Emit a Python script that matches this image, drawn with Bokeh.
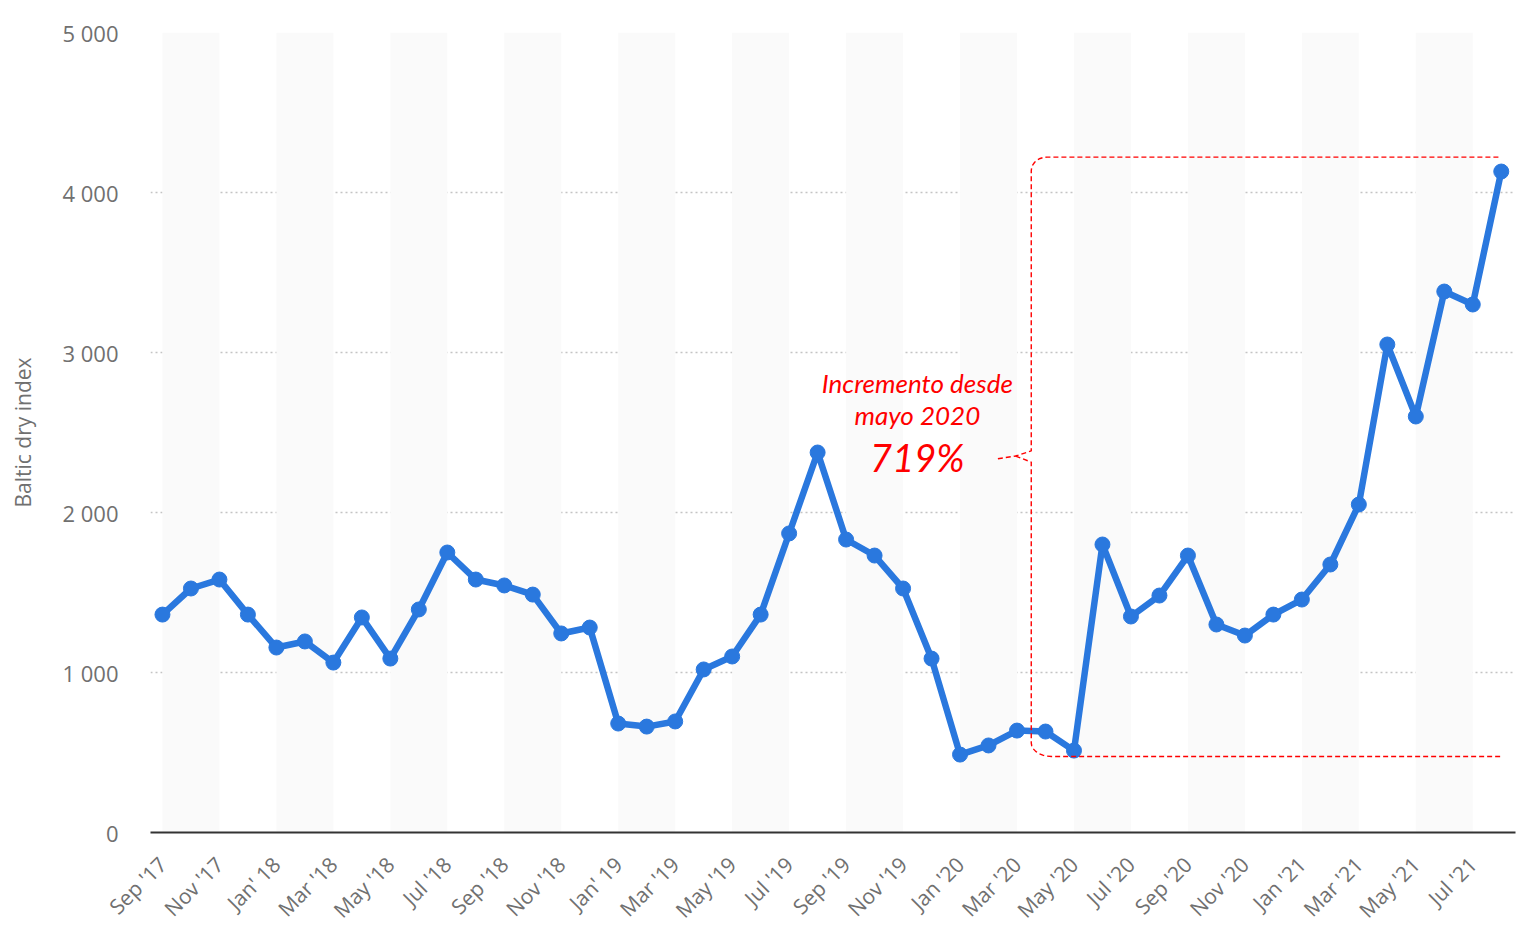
import numpy as np
from bokeh.plotting import figure
from bokeh.models import Range1d, FixedTicker, ColumnDataSource
from bokeh.core.properties import value
from bokeh.embed import file_html
from bokeh.resources import INLINE

# ---------------- data ----------------
months = ["Sep '17", "Oct '17", "Nov '17", "Dec '17",
          "Jan '18", "Feb '18", "Mar '18", "Apr '18", "May '18", "Jun '18",
          "Jul '18", "Aug '18", "Sep '18", "Oct '18", "Nov '18", "Dec '18",
          "Jan '19", "Feb '19", "Mar '19", "Apr '19", "May '19", "Jun '19",
          "Jul '19", "Aug '19", "Sep '19", "Oct '19", "Nov '19", "Dec '19",
          "Jan '20", "Feb '20", "Mar '20", "Apr '20", "May '20", "Jun '20",
          "Jul '20", "Aug '20", "Sep '20", "Oct '20", "Nov '20", "Dec '20",
          "Jan '21", "Feb '21", "Mar '21", "Apr '21", "May '21", "Jun '21",
          "Jul '21", "Aug '21"]
bdi = [1362, 1525, 1581, 1362,
       1156, 1194, 1062, 1344, 1087, 1394,
       1750, 1581, 1544, 1487, 1244, 1281,
       681, 662, 694, 1019, 1100, 1362,
       1869, 2375, 1831, 1731, 1525, 1087,
       487, 544, 637, 631, 512, 1800,
       1350, 1481, 1731, 1300, 1231, 1362,
       1456, 1675, 2050, 3050, 2600, 3381,
       3300, 4131]
tick_labels = ["Sep '17", "Nov '17", "Jan' 18", "Mar '18", "May '18", "Jul '18",
               "Sep '18", "Nov '18", "Jan' 19", "Mar '19", "May '19", "Jul '19",
               "Sep '19", "Nov '19", "Jan '20", "Mar '20", "May '20", "Jul '20",
               "Sep '20", "Nov '20", "Jan '21", "Mar '21", "May '21", "Jul '21"]
y_ticks = [0, 1000, 2000, 3000, 4000, 5000]
y_tick_labels = ["0", "1 000", "2 000", "3 000", "4 000", "5 000"]
annot_lines = ["Incremento desde", "mayo 2020"]
annot_pct = "719%"

# ---------------- figure ----------------
x = list(range(len(months)))
BLUE = "#2a78de"
GREY = "#707070"
RED = "#ff0000"

p = figure(width=1518, height=936, output_backend="svg", toolbar_location=None,
           x_range=Range1d(-0.42, 47.5), y_range=Range1d(0, 5000),
           min_border_left=150, min_border_right=3, min_border_top=32,
           min_border_bottom=104)
p.outline_line_color = None
p.background_fill_color = "white"

# alternating bands
band_left = list(range(0, len(months), 4))
band_right = [b + 2 for b in band_left]
p.quad(left=band_left, right=band_right, bottom=0, top=5000,
       fill_color="#fafafa", line_color=None)

# axes
p.xaxis.ticker = FixedTicker(ticks=list(range(0, len(months), 2)))
p.xaxis.major_label_overrides = {i * 2: lab for i, lab in enumerate(tick_labels)}
p.xaxis.major_label_orientation = np.pi / 4
p.xaxis.axis_line_color = "#333333"
p.xaxis.axis_line_width = 2
p.xaxis.major_tick_line_color = None
p.xaxis.minor_tick_line_color = None
p.xaxis.major_label_text_color = GREY
p.xaxis.major_label_text_font = "Open Sans"
p.xaxis.major_label_text_font_size = "21px"
p.xaxis.major_label_standoff = 22

p.yaxis.ticker = FixedTicker(ticks=y_ticks)
p.yaxis.major_label_overrides = dict(zip(y_ticks, y_tick_labels))
p.yaxis.axis_line_color = None
p.yaxis.major_tick_line_color = None
p.yaxis.minor_tick_line_color = None
p.yaxis.major_tick_out = 0
p.yaxis.major_label_standoff = 32
p.yaxis.major_label_text_color = GREY
p.yaxis.major_label_text_font = "Open Sans"
p.yaxis.major_label_text_font_size = "22px"
p.yaxis.axis_label = "Baltic dry index"
p.yaxis.axis_label_text_font = "Open Sans"
p.yaxis.axis_label_text_font_style = "normal"
p.yaxis.axis_label_text_font_size = "21px"
p.yaxis.axis_label_text_color = GREY
p.yaxis.axis_label_standoff = 22

p.xgrid.visible = False
p.ygrid.ticker = FixedTicker(ticks=y_ticks[1:])
p.ygrid.grid_line_color = "#c4c4c4"
p.ygrid.grid_line_dash = "2 3"
p.ygrid.grid_line_width = 1.5

# data line
src = ColumnDataSource(dict(x=x, y=bdi))
p.line("x", "y", source=src, line_color=BLUE, line_width=6.5,
       line_join="round", line_cap="round")
p.scatter("x", "y", source=src, size=15, fill_color=BLUE, line_color=BLUE)

# ---------------- annotation bracket ----------------
i_may = months.index("May '20")
xb = i_may - 1.5
x_end = len(months) - 1
y_top = max(bdi) + 90
y_bot = bdi[i_may] - 37
rx, ry = 0.55, 85
y_mid = 2345
th = np.linspace(0, np.pi / 2, 8)
# top-left rounded corner
top_cx, top_cy = xb + rx, y_top - ry
top_arc_x = list(top_cx - rx * np.cos(th))
top_arc_y = list(top_cy + ry * np.sin(th))
bot_cx, bot_cy = xb + rx * 1.3, y_bot + ry
bot_arc_x = list(bot_cx - rx * 1.3 * np.cos(th))
bot_arc_y = list(bot_cy - ry * np.sin(th))

seg_top_x = [x_end - 0.1] + top_arc_x[::-1] + [xb, xb - 0.55, xb - 1.2]
seg_top_y = [y_top] + top_arc_y[::-1] + [y_mid + 40, y_mid + 8, y_mid - 10]
seg_bot_x = [xb - 0.55, xb] + bot_arc_x + [x_end]
seg_bot_y = [y_mid + 8, y_mid - 30] + bot_arc_y + [y_bot]
p.multi_line(xs=[seg_top_x, seg_bot_x], ys=[seg_top_y, seg_bot_y],
             line_color=RED, line_width=1.4, line_dash="5 3")

# annotation text
tx = i_may - 5.5
p.text(x=[tx, tx], y=[2812, 2612], text=annot_lines,
       text_font=value("Lato"), text_font_style="italic",
       text_font_size="26px", text_color=RED,
       text_align="center", text_baseline="middle")
p.text(x=[tx], y=[2350], text=[annot_pct],
       text_font=value("Lato"), text_font_style="italic",
       text_font_size="38px", text_color=RED,
       text_align="center", text_baseline="middle")

open("out.html", "w").write(file_html(p, INLINE))
